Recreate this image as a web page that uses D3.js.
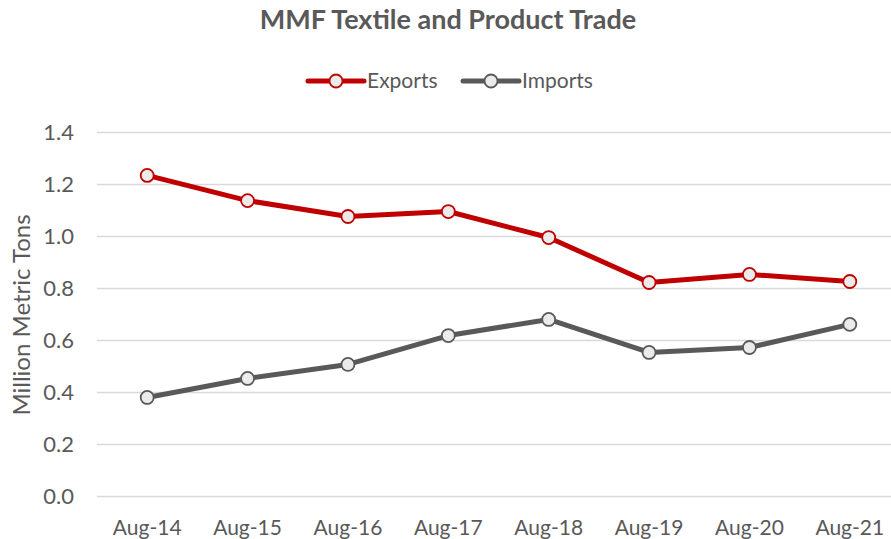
<!DOCTYPE html>
<html lang="en">
<head>
    <meta charset="UTF-8">
    <title>MMF Textile and Product Trade</title>
    <script src="https://d3js.org/d3.v7.min.js"></script>
    <style>
        body { margin: 0; background: #fff; }
        text { font-family: Lato, "Open Sans", sans-serif; fill: #595959; }
    </style>
</head>
<body>
    <svg width="891" height="539" id="svg1"></svg>
    <script>
        const categories = ["Aug-14", "Aug-15", "Aug-16", "Aug-17", "Aug-18", "Aug-19", "Aug-20", "Aug-21"];
        const exportsVals = [1.235, 1.138, 1.077, 1.096, 0.996, 0.823, 0.854, 0.827];
        const importsVals = [0.381, 0.454, 0.508, 0.619, 0.681, 0.554, 0.573, 0.662];
        const yTicks = [0, 0.2, 0.4, 0.6, 0.8, 1.0, 1.2, 1.4];

        const series = [
            { name: "Exports", values: exportsVals, color: "#c00000" },
            { name: "Imports", values: importsVals, color: "#595959" }
        ];

        const svg = d3.select('#svg1');
        const margin = { top: 132.5, left: 97, bottom: 496.5 };

        const x = d3.scaleBand()
            .domain(categories)
            .range([97, 900])
            .padding(0);

        const y = d3.scaleLinear()
            .domain([0, 1.4])
            .range([margin.bottom, margin.top]);

        // gridlines
        svg.append('g')
            .selectAll('line')
            .data(yTicks)
            .enter().append('line')
            .attr('x1', 97)
            .attr('x2', 891)
            .attr('y1', d => y(d))
            .attr('y2', d => y(d))
            .attr('stroke', '#d9d9d9')
            .attr('stroke-width', 1.5);

        // y tick labels
        svg.append('g')
            .selectAll('text')
            .data(yTicks)
            .enter().append('text')
            .attr('x', 74)
            .attr('y', d => y(d))
            .attr('dy', '0.35em')
            .attr('text-anchor', 'end')
            .style('font-size', '22px')
            .text(d => d3.format('.1f')(d));

        // x tick labels
        svg.append('g')
            .selectAll('text')
            .data(categories)
            .enter().append('text')
            .attr('x', d => x(d) + x.bandwidth() / 2)
            .attr('y', 535)
            .attr('text-anchor', 'middle')
            .style('font-size', '21px')
            .text(d => d);

        // axis title
        svg.append('text')
            .attr('transform', 'translate(30,315) rotate(-90)')
            .attr('text-anchor', 'middle')
            .style('font-size', '24px')
            .text('Million Metric Tons');

        // title
        svg.append('text')
            .attr('x', 448)
            .attr('y', 29)
            .attr('text-anchor', 'middle')
            .style('font-size', '27px')
            .style('font-weight', 'bold')
            .text('MMF Textile and Product Trade');

        const line = d3.line()
            .x((d, i) => x(categories[i]) + x.bandwidth() / 2)
            .y(d => y(d));

        series.forEach(s => {
            svg.append('path')
                .datum(s.values)
                .attr('d', line)
                .attr('fill', 'none')
                .attr('stroke', s.color)
                .attr('stroke-width', 5)
                .attr('stroke-linejoin', 'round');

            svg.append('g')
                .selectAll('circle')
                .data(s.values)
                .enter().append('circle')
                .attr('cx', (d, i) => x(categories[i]) + x.bandwidth() / 2)
                .attr('cy', d => y(d))
                .attr('r', 6.5)
                .attr('fill', '#ebebeb')
                .attr('stroke', s.color)
                .attr('stroke-width', 1.8);
        });

        // legend
        const legendX = [308, 463];
        const legend = svg.append('g')
            .selectAll('g')
            .data(series)
            .enter().append('g')
            .attr('transform', (d, i) => `translate(${legendX[i]},81)`);

        legend.append('line')
            .attr('x1', 0).attr('x2', 56)
            .attr('stroke', d => d.color)
            .attr('stroke-width', 5)
            .attr('stroke-linecap', 'round');

        legend.append('circle')
            .attr('cx', 28)
            .attr('r', 6.5)
            .attr('fill', '#ebebeb')
            .attr('stroke', d => d.color)
            .attr('stroke-width', 1.8);

        legend.append('text')
            .attr('x', 59)
            .attr('dy', '0.35em')
            .style('font-size', '21px')
            .text(d => d.name);
    </script>
</body>
</html>
